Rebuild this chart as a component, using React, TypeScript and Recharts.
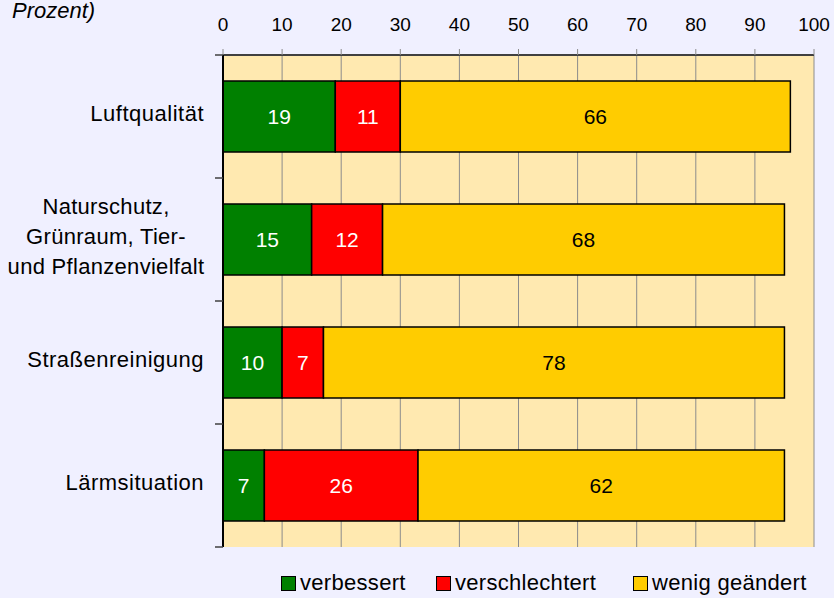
import { BarChart, Bar, XAxis, YAxis, CartesianGrid, LabelList } from "recharts";

const categories = [
    "Luftqualität",
    "Naturschutz,\nGrünraum, Tier-\nund Pflanzenvielfalt",
    "Straßenreinigung",
    "Lärmsituation",
];
const verbessert = [19, 15, 10, 7];
const verschlechtert = [11, 12, 7, 26];
const wenigGeaendert = [66, 68, 78, 62];
const xTicks = [0, 10, 20, 30, 40, 50, 60, 70, 80, 90, 100];

const legendItems = [
    { label: "verbessert", color: "#008000", left: 281 },
    { label: "verschlechtert", color: "#FF0000", left: 436 },
    { label: "wenig geändert", color: "#FFCC00", left: 633 },
];

const data = categories.map((name, i) => ({
    name,
    verbessert: verbessert[i],
    verschlechtert: verschlechtert[i],
    wenig: wenigGeaendert[i],
}));

const FONT = "'Liberation Sans', Arial, sans-serif";

// category label + tick marks on the band boundaries (like excel)
function CategoryTick({ y, payload, index }: any) {
    const lines = String(payload.value).split("\n");
    const half = payload.offset || 61.5;
    const cy = y - 3;
    const marks = (
        <>
            <line x1={215} x2={223} y1={y - half} y2={y - half} stroke="#404040" strokeWidth={1.5} />
            {index === categories.length - 1 && (
                <line x1={215} x2={223} y1={y + half} y2={y + half} stroke="#404040" strokeWidth={1.5} />
            )}
        </>
    );
    if (lines.length === 1) {
        return (
            <g>
                {marks}
                <text x={204} y={cy} dy="0.35em" textAnchor="end" fontSize={22} letterSpacing={0.5} fill="#000" fontFamily={FONT}>
                    {lines[0]}
                </text>
            </g>
        );
    }
    const lh = 30;
    return (
        <g>
            {marks}
            <text textAnchor="middle" fontSize={22} letterSpacing={0.3} fill="#000" fontFamily={FONT}>
                {lines.map((l, i) => (
                    <tspan key={i} x={106} y={cy + (i - (lines.length - 1) / 2) * lh} dy="0.35em">
                        {l}
                    </tspan>
                ))}
            </text>
        </g>
    );
}

export default function App() {
    return (
        <div style={{ position: "fixed", left: 0, top: 0, width: 834, height: 598, background: "#F0F0FF", fontFamily: FONT, overflow: "hidden" }}>
            <div style={{ position: "absolute", left: 12, top: -2, fontSize: 22, fontStyle: "italic", color: "#000", whiteSpace: "nowrap" }}>
                Prozent)
            </div>
            <BarChart
                width={834}
                height={598}
                data={data}
                layout="vertical"
                margin={{ top: 0, right: 20, left: 0, bottom: 51 }}
                barSize={71}
            >
                <CartesianGrid
                    xAxisId="top"
                    yAxisId="cat"
                    horizontal={false}
                    vertical={true}
                    stroke="#8C8C8C"
                    fill="#FFE9B0"
                    fillOpacity={1}
                />
                <XAxis
                    xAxisId="top"
                    orientation="top"
                    type="number"
                    domain={[0, 100]}
                    ticks={xTicks}
                    height={55}
                    tickSize={6}
                    tickMargin={18}
                    axisLine={{ stroke: "#404040", strokeWidth: 2 }}
                    tickLine={{ stroke: "#8C8C8C" }}
                    tick={{ fill: "#000", fontSize: 19, fontFamily: FONT }}
                />
                <XAxis
                    xAxisId="bottom"
                    orientation="bottom"
                    type="number"
                    domain={[0, 100]}
                    height={0}
                    tick={false}
                    tickLine={false}
                    axisLine={{ stroke: "#202020", strokeWidth: 2 }}
                />
                <YAxis
                    yAxisId="cat"
                    type="category"
                    dataKey="name"
                    width={223}
                    tickLine={false}
                    axisLine={{ stroke: "#000", strokeWidth: 2 }}
                    tick={<CategoryTick />}
                    interval={0}
                />
                <YAxis
                    yAxisId="right"
                    orientation="right"
                    type="number"
                    width={0}
                    tick={false}
                    tickLine={false}
                    axisLine={{ stroke: "#303030", strokeWidth: 2 }}
                />
                <Bar dataKey="verbessert" stackId="a" xAxisId="top" yAxisId="cat" fill="#008000" stroke="#000" strokeWidth={1.5} isAnimationActive={false}>
                    <LabelList dataKey="verbessert" position="center" fill="#fff" fontSize={21} fontFamily={FONT} />
                </Bar>
                <Bar dataKey="verschlechtert" stackId="a" xAxisId="top" yAxisId="cat" fill="#FF0000" stroke="#000" strokeWidth={1.5} isAnimationActive={false}>
                    <LabelList dataKey="verschlechtert" position="center" fill="#fff" fontSize={21} fontFamily={FONT} />
                </Bar>
                <Bar dataKey="wenig" stackId="a" xAxisId="top" yAxisId="cat" fill="#FFCC00" stroke="#000" strokeWidth={1.5} isAnimationActive={false}>
                    <LabelList dataKey="wenig" position="center" fill="#000" fontSize={21} fontFamily={FONT} />
                </Bar>
            </BarChart>
            {legendItems.map((it) => (
                <div key={it.label} style={{ position: "absolute", left: it.left, top: 570, height: 26, display: "flex", alignItems: "center", fontSize: 22, letterSpacing: 0.3, color: "#000", whiteSpace: "nowrap" }}>
                    <span style={{ display: "inline-block", width: 13, height: 13, background: it.color, border: "1.5px solid #000", marginRight: 4 }} />
                    <span>{it.label}</span>
                </div>
            ))}
        </div>
    );
}
